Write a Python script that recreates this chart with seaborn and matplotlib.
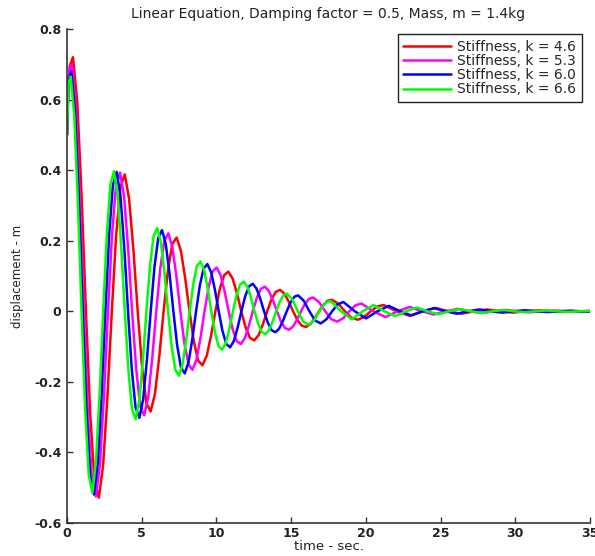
import numpy as np
import pandas as pd
import matplotlib
matplotlib.use("Agg")
import matplotlib.pyplot as plt
import seaborn as sns

labels = ["Stiffness, k = 4.6", "Stiffness, k = 5.3", "Stiffness, k = 6.0", "Stiffness, k = 6.6"]
colors = ["#ff0000", "#ff00ff", "#0000ff", "#00ff00"]

t_red = [0, 0.1, 0.2, 0.400, 0.689, 0.978, 1.266, 1.555, 1.844, 2.133, 2.422, 2.710, 2.999, 3.288, 3.577,
         3.866, 4.154, 4.443, 4.732, 5.021, 5.310, 5.598, 5.887, 6.176, 6.465, 6.754, 7.042,
         7.331, 7.620, 7.909, 8.198, 8.486, 8.775, 9.064, 9.353, 9.642, 9.930, 10.219, 10.508,
         10.797, 11.086, 11.375, 11.663, 11.952, 12.241, 12.530, 12.819, 13.107, 13.396, 13.685, 13.974,
         14.262, 14.551, 14.840, 15.129, 15.418, 15.706, 15.995, 16.284, 16.573, 16.862, 17.150, 17.439,
         17.728, 18.163, 18.596, 19.029, 19.462, 19.896, 20.329, 20.762, 21.195,
         22.062, 22.928, 23.795, 24.662, 25.528, 26.395, 27.262, 28.128,
         28.995, 29.862, 30.728, 31.595, 32.46, 33.33, 34.19, 35.0]
y_red = [0.5, 0.650, 0.697, 0.720, 0.592, 0.325, 0, -0.293, -0.482, -0.528, -0.434, -0.238, 0, 0.215, 0.353,
         0.388, 0.319, 0.175, 0, -0.158, -0.260, -0.284, -0.234, -0.128, 0, 0.116, 0.190,
         0.209, 0.172, 0.094, 0, -0.085, -0.140, -0.153, -0.126, -0.069, 0, 0.0625, 0.102,
         0.1124, 0.0925, 0.0507, 0, -0.0457, -0.0752, -0.0825, -0.0679, -0.0372, 0, 0.0336, 0.0552,
         0.0605, 0.0498, 0.0273, 0, -0.0246, -0.0405, -0.0444, -0.0365, -0.0200, 0, 0.0181, 0.0297,
         0.0326, 0.0213, 0, -0.0183, -0.0240, -0.0157, 0, 0.0134, 0.0176,
         0, -0.0129, 0, 0.0095, 0, -0.0069, 0, 0.0051,
         0, -0.0037, 0, 0.0027, 0, -0.002, 0, 0.001]

t_mag = [0, 0.1, 0.2, 0.320, 0.589, 0.858, 1.128, 1.397, 1.666, 1.935, 2.204, 2.474, 2.743, 3.012, 3.281,
         3.550, 3.820, 4.089, 4.358, 4.627, 4.896, 5.166, 5.435, 5.704, 5.973, 6.242, 6.512,
         6.781, 7.050, 7.319, 7.588, 7.858, 8.127, 8.396, 8.665, 8.934, 9.204, 9.473, 9.742,
         10.011, 10.280, 10.549, 10.819, 11.088, 11.357, 11.626, 11.895, 12.165, 12.434, 12.703, 12.972,
         13.242, 13.511, 13.780, 14.049, 14.318, 14.588, 14.857, 15.126, 15.395, 15.664, 15.934, 16.203,
         16.472, 16.875, 17.279, 17.682, 18.086, 18.490, 18.894, 19.297, 19.701,
         20.509, 21.316, 22.124, 22.931, 23.739, 24.546, 25.354, 26.161,
         26.969, 27.776, 28.584, 29.391, 30.199, 31.006, 31.814, 32.621, 33.43, 34.24, 35.0]
y_mag = [0.5, 0.660, 0.696, 0.700, 0.578, 0.318, 0, -0.289, -0.477, -0.525, -0.433, -0.238, 0, 0.216, 0.357,
         0.393, 0.325, 0.179, 0, -0.162, -0.268, -0.295, -0.243, -0.134, 0, 0.121, 0.200,
         0.221, 0.182, 0.100, 0, -0.091, -0.150, -0.166, -0.137, -0.075, 0, 0.068, 0.113,
         0.1240, 0.1023, 0.0563, 0, -0.0511, -0.0844, -0.0929, -0.0767, -0.0422, 0, 0.0383, 0.0633,
         0.0697, 0.0575, 0.0316, 0, -0.0287, -0.0474, -0.0522, -0.0431, -0.0237, 0, 0.0215, 0.0355,
         0.0391, 0.0257, 0, -0.0223, -0.0293, -0.0193, 0, 0.0167, 0.0220,
         0, -0.0165, 0, 0.0124, 0, -0.0093, 0, 0.0070,
         0, -0.0052, 0, 0.0039, 0, -0.0029, 0, 0.0022, 0, -0.0016, 0]

t_blue = [0, 0.1, 0.290, 0.543, 0.796, 1.049, 1.302, 1.555, 1.807, 2.060, 2.313, 2.566, 2.819, 3.072,
          3.325, 3.578, 3.831, 4.084, 4.336, 4.589, 4.842, 5.095, 5.348, 5.601, 5.854, 6.107,
          6.360, 6.612, 6.865, 7.118, 7.371, 7.624, 7.877, 8.130, 8.383, 8.636, 8.889, 9.141,
          9.394, 9.647, 9.900, 10.153, 10.406, 10.659, 10.912, 11.165, 11.417, 11.670, 11.923, 12.176,
          12.429, 12.682, 12.935, 13.188, 13.441, 13.694, 13.947, 14.200, 14.452, 14.705, 14.958, 15.211,
          15.464, 15.844, 16.223, 16.603, 16.982, 17.361, 17.741, 18.120, 18.500,
          19.258, 20.017, 20.776, 21.535, 22.294, 23.052, 23.811, 24.570,
          25.329, 26.088, 26.846, 27.605, 28.364, 29.123, 29.882, 30.64, 31.40, 32.16, 32.92,
          33.67, 34.43, 35.0]
y_blue = [0.5, 0.650, 0.680, 0.563, 0.311, 0, -0.284, -0.470, -0.519, -0.429, -0.237, 0, 0.216, 0.358,
          0.395, 0.327, 0.181, 0, -0.165, -0.273, -0.302, -0.250, -0.138, 0, 0.126, 0.208,
          0.230, 0.190, 0.105, 0, -0.096, -0.159, -0.176, -0.145, -0.080, 0, 0.073, 0.121,
          0.1338, 0.1107, 0.0611, 0, -0.0558, -0.0924, -0.1020, -0.0844, -0.0466, 0, 0.0426, 0.0705,
          0.0778, 0.0644, 0.0355, 0, -0.0325, -0.0538, -0.0593, -0.0491, -0.0271, 0, 0.0248, 0.0410,
          0.0452, 0.0299, 0, -0.0261, -0.0345, -0.0228, 0, 0.0199, 0.0263,
          0, -0.0201, 0, 0.0153, 0, -0.0117, 0, 0.0089,
          0, -0.0068, 0, 0.0052, 0, -0.0039, 0, 0.0030, 0, -0.0023, 0,
          0.0018, 0, -0.001]

t_green = [0, 0.1, 0.250, 0.491, 0.732, 0.974, 1.215, 1.456, 1.697, 1.938, 2.180, 2.421, 2.662, 2.903,
           3.144, 3.386, 3.627, 3.868, 4.109, 4.350, 4.592, 4.833, 5.074, 5.315, 5.556, 5.798,
           6.039, 6.280, 6.521, 6.762, 7.004, 7.245, 7.486, 7.727, 7.968, 8.210, 8.451, 8.692,
           8.933, 9.174, 9.416, 9.657, 9.898, 10.139, 10.380, 10.622, 10.863, 11.104, 11.345, 11.586,
           11.828, 12.069, 12.310, 12.551, 12.792, 13.034, 13.275, 13.516, 13.757, 13.998, 14.240, 14.481,
           14.722, 15.084, 15.445, 15.807, 16.169, 16.531, 16.893, 17.254, 17.616,
           18.340, 19.063, 19.787, 20.510, 21.234, 21.957, 22.681, 23.404,
           24.128, 24.851, 25.575, 26.298, 27.022, 27.745, 28.469, 29.192, 29.916, 30.64, 31.36,
           32.09, 32.81, 33.53, 34.26, 35.0]
y_green = [0.5, 0.647, 0.665, 0.552, 0.305, 0, -0.280, -0.464, -0.514, -0.426, -0.236, 0, 0.216, 0.359,
           0.397, 0.329, 0.182, 0, -0.167, -0.277, -0.306, -0.254, -0.141, 0, 0.129, 0.214,
           0.236, 0.196, 0.109, 0, -0.100, -0.165, -0.183, -0.151, -0.084, 0, 0.077, 0.128,
           0.1410, 0.1169, 0.0647, 0, -0.0593, -0.0984, -0.1089, -0.0903, -0.0499, 0, 0.0458, 0.0760,
           0.0841, 0.0697, 0.0386, 0, -0.0354, -0.0587, -0.0649, -0.0538, -0.0298, 0, 0.0273, 0.0453,
           0.0500, 0.0332, 0, -0.0291, -0.0387, -0.0256, 0, 0.0225, 0.0298,
           0, -0.0230, 0, 0.0178, 0, -0.0137, 0, 0.0106,
           0, -0.0082, 0, 0.0063, 0, -0.0049, 0, 0.0038, 0, -0.0029, 0,
           0.0023, 0, -0.0017, 0, 0.001]

x_ticks = [0, 5, 10, 15, 20, 25, 30, 35]
y_ticks = [-0.6, -0.4, -0.2, 0, 0.2, 0.4, 0.6, 0.8]
y_tick_labels = ["-0.6", "-0.4", "-0.2", "0", "0.2", "0.4", "0.6", "0.8"]

frames = []
for lab, tt, yy in zip(labels, [t_red, t_mag, t_blue, t_green], [y_red, y_mag, y_blue, y_green]):
    frames.append(pd.DataFrame({"time": tt, "disp": yy, "series": lab}))
df = pd.concat(frames, ignore_index=True)

sns.set_theme(style="white")
plt.rcParams["font.family"] = ["DejaVu Sans"]

W, H = 595, 556
L, R, T, B = 67, 590, 29, 523
fig = plt.figure(figsize=(W / 100, H / 100), dpi=100)
ax = fig.add_axes([L / W, 1 - B / H, (R - L) / W, (B - T) / H])

sns.lineplot(data=df, x="time", y="disp", hue="series", hue_order=labels,
             palette=colors, estimator=None, sort=False, linewidth=1.8, ax=ax)

ax.set_xlim(0, 35)
ax.set_ylim(-0.6, 0.8)
ax.set_xticks(x_ticks)
ax.set_xticklabels([str(v) for v in x_ticks])
ax.set_yticks(y_ticks)
ax.set_yticklabels(y_tick_labels)
for lbl in ax.get_xticklabels() + ax.get_yticklabels():
    lbl.set_fontweight("bold")
    lbl.set_fontsize(9)
ax.tick_params(axis="both", direction="in", length=4, width=1, colors="#333333",
               labelcolor="#222222", left=True, bottom=True)
ax.tick_params(axis="y", pad=4)
ax.tick_params(axis="x", pad=3)

for side in ["top", "right"]:
    ax.spines[side].set_visible(False)
for side in ["left", "bottom"]:
    ax.spines[side].set_color("#333333")
    ax.spines[side].set_linewidth(1.2)

ax.text(0.5, 1 + (T - 14) / (B - T), "Linear Equation, Damping factor = 0.5, Mass, m = 1.4kg",
        transform=ax.transAxes, ha="center", va="center", fontsize=10, color="#222222")
ax.set_xlabel("time - sec.", fontsize=9.5, color="#222222")
ax.xaxis.set_label_coords(0.5, (B - 547) / (B - T))
ax.xaxis.label.set_va("center")
ax.set_ylabel("displacement - m", fontsize=8.5, color="#222222")
ax.yaxis.set_label_coords((18 - L) / (R - L), 0.5)
ax.yaxis.label.set_va("center")

leg = ax.legend(loc="upper right", bbox_to_anchor=((582 - L) / (R - L), (B - 34) / (B - T)),
                frameon=True, fancybox=False, edgecolor="#222222",
                framealpha=1, fontsize=10, handlelength=3.4, handletextpad=0.5,
                labelspacing=0.02, borderpad=0.4, borderaxespad=0.0, title=None)
leg.get_frame().set_linewidth(1.0)
for line in leg.get_lines():
    line.set_linewidth(1.8)

fig.savefig("out.png", dpi=100)
